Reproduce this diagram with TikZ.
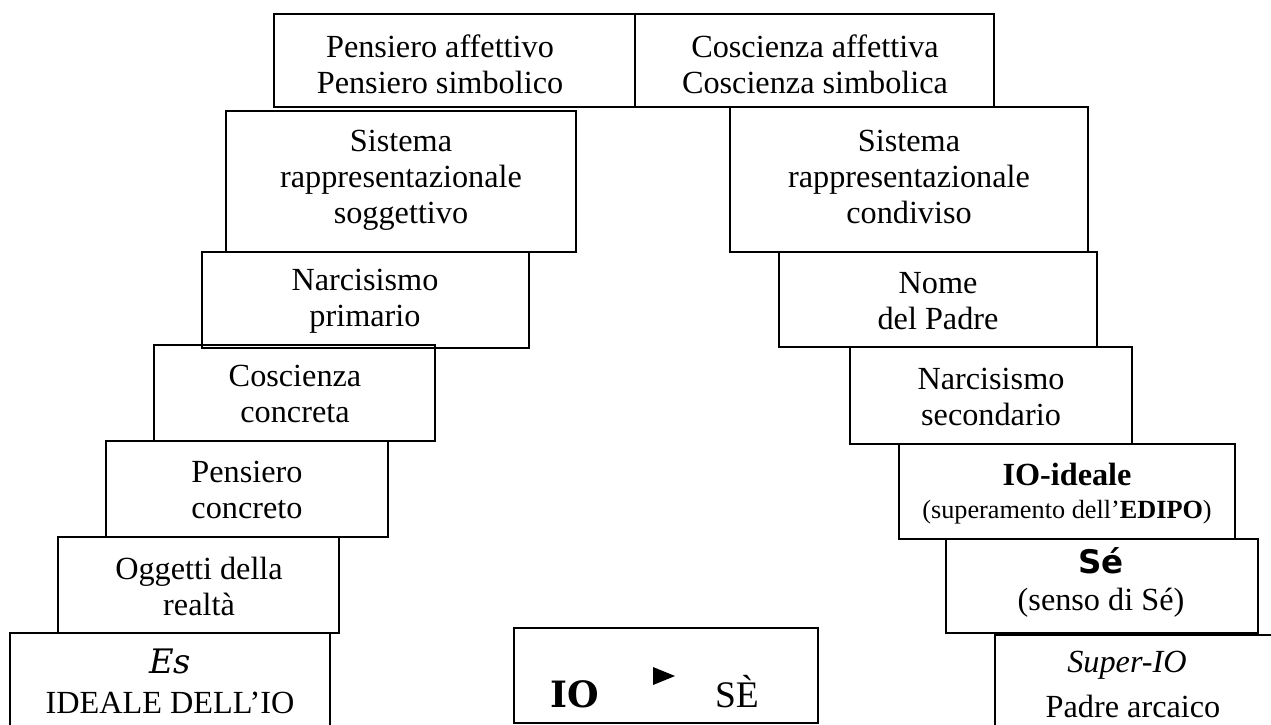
\documentclass[tikz,border=0pt]{standalone}
\usepackage{fontspec}
\setmainfont{Liberation Serif}
\newfontfamily\esfont{DejaVu Serif}
\newfontfamily\sefont{DejaVu Sans}
\tikzset{blok/.style={line width=0.8pt},
  testo/.style={align=center, inner sep=0pt, font=\fontsize{12.9}{14.4}\selectfont}}

\begin{document}
\begin{tikzpicture}[x=0.4pt, y=-0.4pt]
\useasboundingbox (0,0) rectangle (1271,725);

% top row
\draw[blok] (274,14) rectangle (635,107);
\draw[blok] (635,14) rectangle (994,107);
\node[testo] (pensaff) at (440,64) {Pensiero affettivo\\Pensiero simbolico};
\node[testo] (cosaff) at (815,64) {Coscienza affettiva\\Coscienza simbolica};

% left steps
\draw[blok] (226,111) rectangle (576,252);
\draw[blok] (202,252) rectangle (529,348);
\draw[blok] (154,345) rectangle (435,441);
\draw[blok] (106,441) rectangle (388,537);
\draw[blok] (58,537) rectangle (339,633);
\draw[blok] (10,725) |- (330,633) -- (330,725);
\node[testo] (sisog) at (401,180) {Sistema\\rappresentazionale\\soggettivo};
\node[testo] (narprim) at (365,301) {Narcisismo\\primario};
\node[testo] (coscon) at (295,394) {Coscienza\\concreta};
\node[testo] (pencon) at (247,490) {Pensiero\\concreto};
\node[testo] (oggetti) at (199,586) {Oggetti della\\realtà};
\node[testo, anchor=base, font=\esfont\itshape\fontsize{13.5}{15}\selectfont] (es) at (170,673) {Es};
\node[testo, anchor=base] (ideale) at (170,713) {IDEALE DELL’IO};

% right steps
\draw[blok] (730,107) rectangle (1088,252);
\draw[blok] (779,252) rectangle (1097,347);
\draw[blok] (850,347) rectangle (1132,444);
\draw[blok] (899,444) rectangle (1235,539);
\draw[blok] (946,539) rectangle (1258,633);
\draw[blok] (995,725) |- (1271,635);
\node[testo] (sicond) at (909,177) {Sistema\\rappresentazionale\\condiviso};
\node[testo] (nomepadre) at (938,301) {Nome\\del Padre};
\node[testo] (narsec) at (991,397) {Narcisismo\\secondario};
\node[testo, anchor=base] (ioideale) at (1067,485) {\bfseries IO-ideale};
\node[testo, anchor=base, font=\fontsize{10.5}{12}\selectfont] (edipo) at (1067,518)
  {(superamento dell’\textbf{EDIPO})};
\node[testo, anchor=base, font=\sefont\bfseries\fontsize{13}{15}\selectfont] (se) at (1101,573) {Sé};
\node[testo, anchor=base] (senso) at (1101,610) {(senso di Sé)};
\node[testo, anchor=base] (superio) at (1127,672) {\itshape Super-IO};
\node[testo, anchor=base] (padre) at (1133,717) {Padre arcaico};

% centre box
\draw[blok] (514,628) rectangle (818,723);
\node[testo, anchor=base, font=\esfont\bfseries\fontsize{14.5}{16}\selectfont] (io) at (575,707) {IO};
\fill (653,667) -- (653,685) -- (675,676) -- cycle;
\node[testo, anchor=base, font=\fontsize{15}{17}\selectfont] (sei) at (737,707) {SÈ};
\end{tikzpicture}
\end{document}
